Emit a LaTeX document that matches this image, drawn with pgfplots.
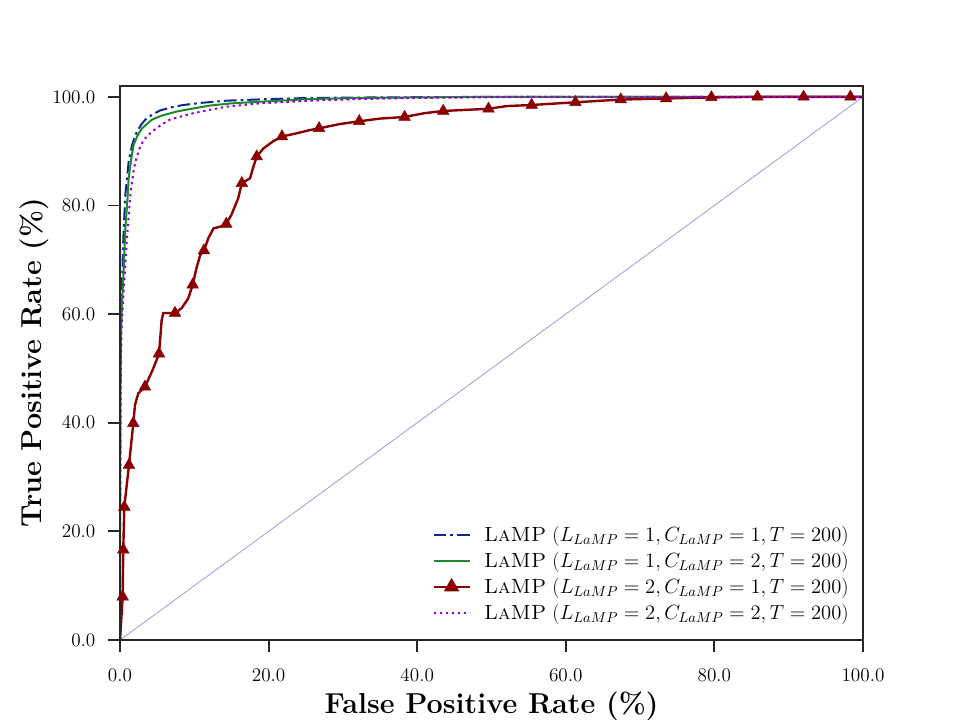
\RequirePackage{fix-cm}
\documentclass[border=0pt]{standalone}
\usepackage{pgfplots}
\pgfplotsset{compat=1.18}
\definecolor{spine}{HTML}{262626}
\definecolor{cblue}{HTML}{0B2A8C}
\definecolor{cgreen}{HTML}{1A8A2A}
\definecolor{cred}{HTML}{8B0000}
\definecolor{cpurple}{HTML}{9400D3}
\definecolor{cdiag}{HTML}{9A9AE0}
\begin{document}
\begin{tikzpicture}
\path[use as bounding box] (-90pt,-60pt) rectangle (630pt,480pt);
\begin{axis}[
  scale only axis, width=557.25pt, height=415.5pt,
  xmin=0, xmax=100, ymin=0, ymax=102,
  axis on top,
  axis line style={spine, line width=1.5pt},
  xtick={0,20,40,60,80,100}, ytick={0,20,40,60,80,100},
  tick align=outside, xtick pos=bottom, ytick pos=left,
  major tick length=9pt,
  tick style={spine, line width=1.4pt},
  tick label style={font=\fontsize{14.4}{16}\selectfont},
  xticklabel style={yshift=-9pt,/pgf/number format/fixed,/pgf/number format/fixed zerofill,/pgf/number format/precision=1},
  yticklabel style={xshift=-6pt,/pgf/number format/fixed,/pgf/number format/fixed zerofill,/pgf/number format/precision=1},
  xlabel={False Positive Rate (\%)}, ylabel={True Positive Rate (\%)},
  label style={font=\fontsize{21.6}{26}\selectfont\bfseries},
  xlabel style={at={(axis description cs:0.5,-0.119)}, anchor=center},
  ylabel style={at={(axis description cs:-0.115,0.5)}, anchor=center},
  legend image code/.code={\draw[mark repeat=2,mark phase=2,#1] plot coordinates {(0pt,0pt) (13.5pt,0pt) (27pt,0pt)};},
  legend cell align=left,
  legend style={draw=none, fill=none, font=\fontsize{15.4}{19}\selectfont,
    at={(axis description cs:0.99,0.023)}, anchor=south east,
    row sep=2.5pt, column sep=8pt},
]
\addplot[cdiag, line width=0.6pt, forget plot] coordinates {(0,0) (100,100)};

\addplot[cblue, line width=1.5pt, dash pattern=on 9.5pt off 3pt on 2pt off 3pt] coordinates {
(0,0) (0,25) (0.03,45) (0.1,57) (0.2,63) (0.3,67) (0.45,74) (0.72,82) (1.17,88.1) (1.6,91) (2.06,93.0) (2.8,94.8) (3.41,95.8) (4.3,96.7) (5.4,97.5) (7,98.1) (8.5,98.5) (11,98.9) (14.4,99.3) (20.2,99.6) (25.6,99.8) (35,99.9) (50,100) (100,100)};
\addlegendentry{\textsc{LaMP} ($L_{LaMP}=1, C_{LaMP}=1, T=200$)}

\addplot[cgreen, line width=1.5pt] coordinates {
(0,0) (0.02,25) (0.05,45) (0.15,57) (0.3,63) (0.42,66) (0.72,75.8) (1.0,81) (1.17,85) (1.5,88.5) (1.84,91.2) (2.4,93) (2.96,94.2) (4.3,95.8) (5.5,96.5) (7.63,97.3) (10,97.9) (12.1,98.4) (15,98.8) (18.8,99.1) (25.6,99.6) (35,99.85) (50,100) (100,100)};
\addlegendentry{\textsc{LaMP} ($L_{LaMP}=1, C_{LaMP}=2, T=200$)}

\addplot[cred, line width=1.8pt, legend image post style={mark=triangle*, mark size=5pt}] coordinates {
(0,0) (0.36,7.97) (0.44,16.6) (0.58,24.5) (1.21,32.2) (1.79,39.9) (2.02,43.3) (2.46,45.4) (3.36,46.6) (4.48,50.0) (5.25,52.7) (5.61,58.9) (5.83,60.2) (7.40,60.2) (8.30,61.1) (9.19,62.9) (9.78,65.4) (10.3,68.5) (10.8,70.9) (11.3,71.7) (11.9,74.0) (12.6,75.8) (13.5,76.1) (14.3,76.6) (15.0,78.3) (15.9,81.3) (16.4,84.1) (17.5,85.0) (17.9,86.9) (18.4,89.0) (19.3,90.5) (20.6,91.8) (21.8,92.7) (23.8,93.3) (25.6,93.9) (26.8,94.2) (29.6,95.0) (32.2,95.5) (35,96.0) (38.3,96.3) (41,97.0) (43.5,97.4) (46.5,97.6) (49.6,97.8) (52,98.3) (55.4,98.5) (61.3,99.0) (67.4,99.5) (73.5,99.7) (79.6,99.9) (85.8,100) (100,100)};
\addlegendentry{\textsc{LaMP} ($L_{LaMP}=2, C_{LaMP}=1, T=200$)}

\addplot[cpurple, line width=1.5pt, dash pattern=on 1.8pt off 2.7pt] coordinates {
(0,0) (0.03,25) (0.08,45) (0.2,57) (0.4,62) (0.5,64.5) (0.94,74) (1.39,82) (1.8,86.2) (2.06,88) (2.7,90.8) (3.19,92.1) (4.3,93.6) (5.5,94.8) (6.7,95.8) (8.5,96.5) (9.9,97.0) (12,97.6) (14.4,98.2) (18.8,98.8) (25.6,99.3) (32,99.6) (40,99.8) (55,100) (100,100)};
\addlegendentry{\textsc{LaMP} ($L_{LaMP}=2, C_{LaMP}=2, T=200$)}

\addplot[cred, only marks, mark=triangle*, mark size=5pt, forget plot] coordinates {
(0.36,7.97) (0.44,16.6) (0.58,24.5) (1.21,32.2) (1.79,39.9) (3.36,46.6) (5.25,52.7) (7.40,60.2) (9.78,65.4) (11.3,71.7) (14.3,76.6) (16.4,84.1) (18.4,89.0) (21.8,92.7) (26.8,94.2) (32.2,95.5) (38.3,96.3) (43.5,97.4) (49.6,97.8) (55.4,98.5) (61.3,99.0) (67.4,99.5) (73.5,99.7) (79.6,99.9) (85.8,100) (92.0,100) (98.3,100)};
\end{axis}
\end{tikzpicture}
\end{document}
